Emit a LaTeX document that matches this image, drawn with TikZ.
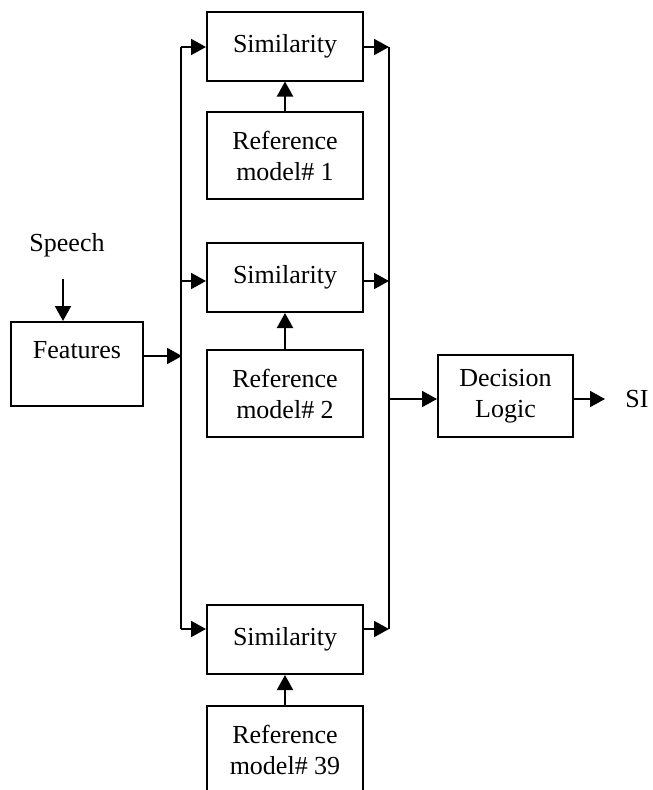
\documentclass[tikz,border=0pt]{standalone}
\usepackage{fontspec}
\setmainfont{Liberation Serif}
\usetikzlibrary{arrows.meta}
\begin{document}
\begin{tikzpicture}[x=1pt,y=-1pt,
  every node/.style={font=\fontsize{26}{31}\selectfont, align=center},
  box/.style={draw, line width=2pt, minimum width=156pt, inner sep=4pt},
  simbox/.style={box, minimum height=69pt},
  refbox/.style={box, minimum height=87pt},
  wire/.style={line width=2pt, line join=miter},
  arr/.style={wire, -{Triangle[length=15pt,width=16pt]}}]
\useasboundingbox (0,0) rectangle (653,790);
\clip (0,0) rectangle (653,790);
% boxes
\node[simbox] (sim1) at (285,46) {Similarity};
\node[refbox] (ref1) at (285,155.5) {Reference\\model\# 1};
\node[simbox] (sim2) at (285,277.5) {Similarity};
\node[refbox] (ref2) at (285,393.5) {Reference\\model\# 2};
\node[simbox] (sim3) at (285,639.5) {Similarity};
\node[refbox] (ref3) at (285,749.5) {Reference\\model\# 39};
\node[box, minimum width=132pt, minimum height=84pt, text height=18pt, text depth=29pt] (feat) at (77,364) {Features};
\node[box, minimum width=135pt, minimum height=82pt] (dec) at (505.5,396) {Decision\\Logic};
\node (speech) at (67,245) {Speech};
\node (si) at (637,399) {SI};
% coordinates
\coordinate (sp) at (63,279);
\coordinate (LT) at (181,47);
\coordinate (LM) at (181,281);
\coordinate (LF) at (182,356);
\coordinate (LB) at (181,629);
\coordinate (RT) at (389,47);
\coordinate (RM) at (389,281);
\coordinate (RD) at (389,399);
\coordinate (RB) at (389,629);
\coordinate (so) at (605,399);
% connectors
\draw[arr] (sp) -- (sp |- feat.north);
\draw[arr] (feat.east |- LF) -- (LF);
\draw[wire] (LT) -- (LB);
\draw[arr] (LT) -- (LT -| sim1.west);
\draw[arr] (LM) -- (LM -| sim2.west);
\draw[arr] (LB) -- (LB -| sim3.west);
\draw[wire] (RT) -- (RB);
\draw[arr] (sim1.east |- RT) -- (RT);
\draw[arr] (sim2.east |- RM) -- (RM);
\draw[arr] (sim3.east |- RB) -- (RB);
\draw[arr] (RD) -- (RD -| dec.west);
\draw[arr] (dec.east |- so) -- (so);
\draw[arr] (ref1) -- (sim1);
\draw[arr] (ref2) -- (sim2);
\draw[arr] (ref3) -- (sim3);
\end{tikzpicture}
\end{document}
